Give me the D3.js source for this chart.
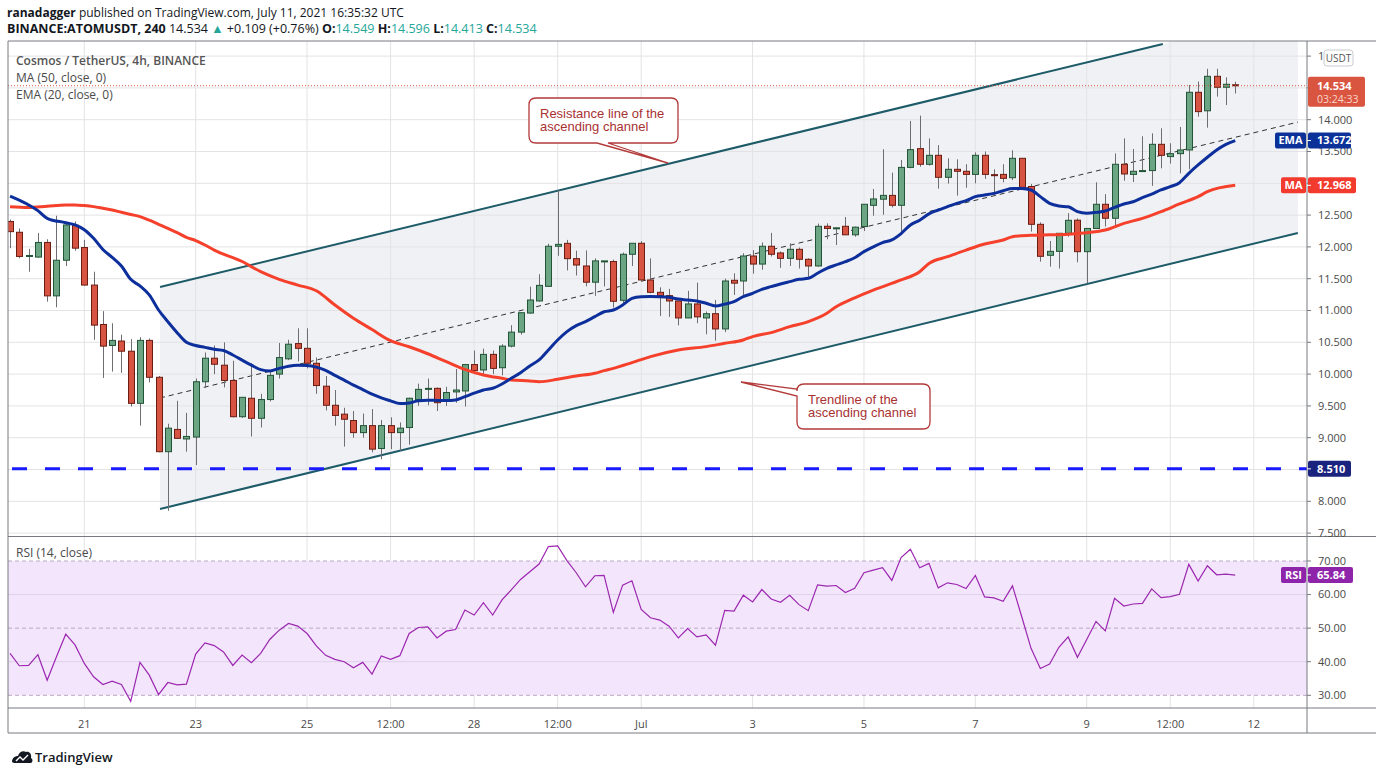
<!DOCTYPE html>
<html><head><meta charset="utf-8">
<script src="https://cdn.jsdelivr.net/npm/d3@7"></script>
<style>body{margin:0;background:#fff;} svg{display:block;font-family:'Open Sans',sans-serif;}</style>
</head><body><svg id="c" width="1376" height="776"></svg>
<script>
// ---------- DATA ----------
const firstIndex = -8; // candle index of first bar (index 0 = Jun 21 00:00, 4h bars)
const opens = [
12.40,12.23,11.855,11.84,12.07,11.23,11.79,12.34,11.99,11.40,
10.78,10.45,10.52,10.36,9.54,10.53,9.95,8.78,9.13,8.98,
9.01,9.88,10.25,10.14,9.90,9.33,9.62,9.305,9.60,10.00,
10.24,10.48,10.405,10.17,9.81,9.51,9.37,9.27,9.08,9.19,
8.83,9.19,9.08,9.16,9.60,9.76,9.776,9.58,9.72,9.735,
10.15,10.065,10.31,10.10,10.44,10.66,10.96,11.15,11.38,12.01,
12.056,11.815,11.70,11.445,11.77,11.77,11.16,11.884,12.057,11.48,
11.286,11.234,11.15,10.883,11.103,10.883,10.95,10.71,11.475,11.464,
11.857,11.73,12.01,11.905,11.82,11.962,11.805,11.70,12.324,12.29,
12.324,12.19,12.32,12.654,12.75,12.81,12.654,13.25,13.545,13.299,
13.44,13.094,13.22,13.189,13.14,13.44,13.136,13.14,13.088,13.393,
12.95,12.355,11.868,11.93,12.214,12.42,11.925,12.29,12.67,12.45,
13.299,13.14,13.19,13.20,13.613,13.42,13.466,13.524,14.431,14.14,
14.682,14.51,14.549];
const highs = [
12.43,12.29,11.97,12.22,12.12,12.49,12.36,12.40,12.11,11.61,
10.99,10.80,10.62,10.55,10.58,10.56,9.97,9.22,9.58,9.39,
9.93,10.34,10.45,10.50,10.21,9.64,10.17,9.69,10.04,10.49,
10.54,10.72,10.72,10.26,9.97,9.75,9.47,9.42,9.38,9.45,
9.28,9.32,9.24,9.63,9.85,9.93,9.79,9.80,10.08,10.16,
10.37,10.40,10.37,10.47,10.77,10.97,11.375,11.57,12.05,12.895,
12.11,11.94,11.945,11.82,11.78,11.80,11.91,12.06,12.09,11.82,
11.365,11.34,11.15,11.31,11.438,10.985,11.166,11.50,11.585,11.90,
11.95,12.07,12.22,11.927,12.057,11.99,11.82,12.366,12.37,12.30,
12.47,12.32,12.67,12.91,13.535,13.168,13.367,13.98,14.064,13.707,
13.60,13.393,13.377,13.30,13.487,13.50,13.22,13.30,13.52,13.393,
12.99,12.386,12.093,12.214,12.53,12.447,12.29,13.016,12.83,13.47,
13.707,13.54,13.74,13.786,13.865,13.63,13.886,14.546,14.60,14.80,
14.80,14.667,14.596];
const lows = [
11.98,11.82,11.61,11.83,11.14,11.05,11.70,11.94,11.39,10.54,
9.94,10.04,10.02,9.49,9.19,9.87,8.77,7.85,8.98,8.78,
8.57,9.78,10.00,9.79,9.32,9.31,9.02,9.16,9.57,9.93,
10.22,10.20,10.09,9.69,9.43,9.19,8.86,9.00,9.00,8.77,
8.66,8.82,8.79,8.89,9.50,9.51,9.42,9.50,9.55,9.49,
10.00,9.99,10.00,9.98,10.42,10.62,10.95,11.14,11.37,11.86,
11.63,11.55,11.38,11.23,11.38,11.045,11.07,11.70,11.47,11.27,
10.914,10.90,10.767,10.88,10.80,10.626,10.526,10.66,11.244,11.234,
11.58,11.64,11.85,11.67,11.70,11.66,11.53,11.69,12.12,12.03,
12.187,12.16,12.25,12.49,12.505,12.62,12.24,13.235,13.26,13.278,
12.916,12.995,12.806,12.93,13.00,13.07,12.82,13.015,13.05,12.92,
12.24,11.768,11.69,11.66,12.16,11.758,11.428,12.29,12.32,12.32,
13.04,13.02,13.18,12.96,13.235,13.31,13.157,13.22,14.048,13.874,
14.363,14.23,14.413];
const closes = [
12.24,11.85,11.865,12.07,11.23,11.79,12.345,11.98,11.40,10.77,
10.44,10.53,10.36,9.54,10.53,9.95,8.78,9.15,8.99,9.02,
9.88,10.25,10.155,9.90,9.33,9.635,9.305,9.60,9.98,10.26,
10.47,10.405,10.17,9.82,9.51,9.35,9.29,9.08,9.19,8.82,
9.19,9.08,9.15,9.62,9.76,9.776,9.55,9.71,9.75,10.15,
10.055,10.31,10.09,10.44,10.66,10.965,11.165,11.395,12.01,12.04,
11.815,11.715,11.445,11.78,11.78,11.145,11.884,12.057,11.48,11.286,
11.234,11.15,10.883,11.103,10.90,10.95,10.71,11.464,11.43,11.857,
11.73,12.01,11.884,11.82,11.962,11.805,11.70,12.324,12.29,12.30,
12.19,12.31,12.67,12.754,12.81,12.654,13.25,13.529,13.299,13.44,
13.094,13.22,13.189,13.14,13.44,13.14,13.12,13.078,13.393,12.937,
12.355,11.852,11.93,12.214,12.418,11.925,12.29,12.67,12.45,13.299,
13.147,13.189,13.20,13.613,13.44,13.466,13.524,14.431,14.127,14.682,
14.51,14.557,14.534];
const rsiValues = [
42.5,38.8,38.9,42.1,34.5,41.5,48.2,45.0,39.5,35.5,
33.2,34.2,33.2,28.2,39.8,36.0,30.2,33.8,33.1,33.3,
42.3,45.6,44.8,42.9,38.9,42.0,39.7,42.5,46.7,49.4,
51.4,50.6,48.4,44.7,41.9,40.7,40.0,38.2,39.8,36.3,
41.7,40.7,41.8,48.4,50.2,50.4,47.1,49.1,49.6,55.4,
53.9,57.6,53.9,58.4,61.4,64.5,66.8,69.1,74.3,74.5,
70.1,66.5,62.3,65.6,65.7,54.7,62.8,64.1,55.6,53.1,
52.4,50.6,47.1,49.9,47.4,48.0,44.9,55.3,55.1,59.8,
57.8,61.5,58.7,57.7,59.8,57.0,55.2,62.9,62.5,62.7,
60.6,61.9,66.5,67.3,68.0,64.2,71.0,73.5,68.0,69.3,
62.0,63.5,63.0,61.8,65.7,59.3,59.0,58.0,62.6,53.4,
44.0,38.0,39.3,44.3,47.4,41.3,46.6,52.0,49.2,58.9,
56.6,57.2,57.4,61.7,59.1,59.4,60.1,69.0,64.0,68.6,
65.9,66.1,65.8];
// EMA(20) readings [candle index, value]
const emaPoints = [[-8,12.80],[-5,12.57],[-4,12.45],[-2,12.38],[-1,12.345],[0,12.27],[1,12.135],[2,11.96],[3,11.837],[4,11.70],[5,11.49],[6,11.386],[7,11.245],[8,11.008],[9,10.825],[10,10.652],[11,10.50],[12,10.45],[13,10.42],[14,10.39],[15,10.37],[16,10.30],[17,10.22],[18,10.14],[19,10.07],[20,10.05],[21,10.09],[22,10.125],[23,10.14],[24,10.135],[25,10.11],[26,10.06],[27,9.98],[28,9.905],[29,9.826],[30,9.757],[31,9.684],[32,9.626],[33,9.58],[34,9.537],[35,9.547],[36,9.58],[37,9.589],[38,9.586],[39,9.583],[40,9.593],[41,9.645],[42,9.70],[43,9.75],[44,9.777],[45,9.845],[46,9.934],[47,10.023],[48,10.128],[49,10.222],[50,10.38],[51,10.537],[52,10.668],[53,10.762],[54,10.825],[55,10.904],[56,10.98],[57,11.008],[58,11.087],[59,11.19],[60,11.218],[61,11.222],[62,11.218],[63,11.207],[64,11.18],[65,11.166],[66,11.15],[67,11.113],[68,11.07],[69,11.10],[70,11.14],[71,11.218],[72,11.27],[73,11.333],[74,11.375],[75,11.417],[76,11.454],[77,11.49],[78,11.506],[79,11.585],[80,11.664],[81,11.716],[82,11.768],[83,11.83],[84,11.925],[85,12.0],[86,12.067],[87,12.11],[88,12.21],[89,12.345],[90,12.42],[91,12.52],[92,12.58],[93,12.633],[94,12.685],[95,12.727],[96,12.79],[97,12.816],[98,12.842],[99,12.884],[100,12.92],[101,12.92],[102,12.895],[103,12.79],[104,12.685],[105,12.643],[106,12.63],[107,12.554],[108,12.53],[109,12.543],[110,12.565],[111,12.62],[112,12.675],[113,12.71],[114,12.774],[115,12.83],[116,12.895],[117,12.947],[118,13.01],[119,13.157],[120,13.288],[121,13.409],[122,13.524],[123,13.613],[124,13.672]];
// MA(50) readings [candle index, value]
const maPoints = [[-8,12.633],[-6,12.62],[-4,12.64],[-2,12.66],[-1,12.66],[0,12.65],[1,12.633],[2,12.607],[3,12.58],[4,12.544],[5,12.51],[6,12.476],[7,12.42],[8,12.355],[9,12.29],[10,12.224],[11,12.15],[12,12.1],[13,12.03],[14,11.95],[17,11.77],[19,11.61],[21,11.49],[23,11.40],[25,11.31],[27,11.086],[29,10.877],[31,10.70],[33,10.525],[35,10.43],[37,10.32],[39,10.196],[41,10.075],[43,9.986],[45,9.934],[46,9.908],[48,9.892],[49,9.88],[51,9.918],[53,9.97],[55,10.013],[56,10.055],[57,10.09],[59,10.18],[61,10.275],[64,10.38],[67,10.432],[69,10.484],[71,10.537],[72,10.59],[74,10.652],[76,10.746],[78,10.825],[80,10.956],[81,11.06],[83,11.20],[85,11.322],[88,11.48],[90,11.61],[91,11.74],[93,11.846],[95,11.95],[97,12.045],[99,12.108],[100,12.16],[102,12.182],[104,12.19],[106,12.2],[108,12.224],[110,12.265],[112,12.37],[114,12.449],[116,12.554],[118,12.675],[120,12.79],[121,12.868],[124,12.968]];
// Drawn channel: [candle index, price]
const channelUpper = [[8.16, 11.37], [116.2, 15.19]];
const channelLower = [[8.16, 7.88], [130.75, 12.22]];
const supportLevel = 8.51;
const lastPrice = 14.534, emaLast = 13.672, maLast = 12.968, rsiLast = 65.84;
const priceTicks = [7.5,8,8.5,9,9.5,10,10.5,11,11.5,12,12.5,13,13.5,14,14.5,15];
const priceLabelTicks = [7.5,8,9,9.5,10,10.5,11,11.5,12,12.5,13.5,14,15]; // others hidden under value labels
const rsiTicks = [30,40,50,60,70];
const timeTickIdx = [0,12,24,33,42,51,60,72,84,96,108,117,126];
const timeTickLabels = ["21","23","25","12:00","28","12:00","Jul","3","5","7","9","12:00","12"];

// ---------- LAYOUT ----------
const L=8, R=1307, PT=41, PB=536, RT=537, RB=708, TB=733;
const svg = d3.select("#c");
const x = d3.scaleLinear().domain([0,126]).range([84.3,1253.8]);
const y = d3.scaleLinear().domain([7.5,15]).range([533.1,56.1]);
const ry = d3.scaleLinear().domain([30,70]).range([695.3,561]);
const idx = opens.map((d,i)=>i+firstIndex);
const candles = idx.map((k,i)=>({k,o:opens[i],h:highs[i],l:lows[i],c:closes[i]}));

svg.append("rect").attr("width",1376).attr("height",776).attr("fill","#fff");
const defs = svg.append("defs");
defs.append("clipPath").attr("id","pp").append("rect").attr("x",L).attr("y",PT).attr("width",R-L).attr("height",PB-PT);
defs.append("clipPath").attr("id","rp").append("rect").attr("x",L).attr("y",RT).attr("width",R-L).attr("height",RB-RT);
defs.append("clipPath").attr("id","usdt").append("rect").attr("x",R).attr("y",40).attr("width",1323-R).attr("height",30);

const gP = svg.append("g").attr("clip-path","url(#pp)");
const gR = svg.append("g").attr("clip-path","url(#rp)");

// channel shading
const lineAt = (ln,k)=> ln[0][1] + (ln[1][1]-ln[0][1])*(k-ln[0][0])/(ln[1][0]-ln[0][0]);
const kEnd = channelLower[1][0], kStart = channelLower[0][0];
gP.append("path").attr("d", d3.line()([
  [x(kStart), y(lineAt(channelUpper,kStart))],[x(kEnd), y(lineAt(channelUpper,kEnd))],
  [x(kEnd), y(lineAt(channelLower,kEnd))],[x(kStart), y(lineAt(channelLower,kStart))]])+"Z")
  .attr("fill","#f0f1f4");

// grid
const gridC = "#e3e3e6";
timeTickIdx.forEach(k=>{
  gP.append("line").attr("x1",x(k)).attr("x2",x(k)).attr("y1",PT).attr("y2",PB).attr("stroke",gridC);
  gR.append("line").attr("x1",x(k)).attr("x2",x(k)).attr("y1",RT).attr("y2",RB).attr("stroke",gridC);
});
priceTicks.forEach(p=>{
  gP.append("line").attr("x1",L).attr("x2",R).attr("y1",y(p)).attr("y2",y(p)).attr("stroke",gridC);
});

// RSI band
gR.append("rect").attr("x",L).attr("width",R-L).attr("y",ry(70)).attr("height",ry(30)-ry(70)).attr("fill","#f3e6fc");
[40,60].forEach(v=>gR.append("line").attr("x1",L).attr("x2",R).attr("y1",ry(v)).attr("y2",ry(v)).attr("stroke","#ddd0ea"));
[30,50,70].forEach(v=>gR.append("line").attr("x1",L).attr("x2",R).attr("y1",ry(v)).attr("y2",ry(v))
  .attr("stroke","#b9a8c4").attr("stroke-dasharray","4,3"));

// channel lines
const chanC = "#1d5b68";
gP.append("line").attr("x1",x(channelUpper[0][0])).attr("y1",y(channelUpper[0][1]))
  .attr("x2",x(channelUpper[1][0])).attr("y2",y(channelUpper[1][1])).attr("stroke",chanC).attr("stroke-width",2);
gP.append("line").attr("x1",x(channelLower[0][0])).attr("y1",y(channelLower[0][1]))
  .attr("x2",x(channelLower[1][0])).attr("y2",y(channelLower[1][1])).attr("stroke",chanC).attr("stroke-width",2);
gP.append("line").attr("x1",x(kStart)).attr("y1",y((lineAt(channelUpper,kStart)+lineAt(channelLower,kStart))/2))
  .attr("x2",x(kEnd)).attr("y2",y((lineAt(channelUpper,kEnd)+lineAt(channelLower,kEnd))/2))
  .attr("stroke","#333").attr("stroke-width",1).attr("stroke-dasharray","5,4");

// support line
gP.append("line").attr("x1",L).attr("x2",R).attr("y1",y(supportLevel)).attr("y2",y(supportLevel))
  .attr("stroke","#1a1aff").attr("stroke-width",3).attr("stroke-dasharray","15,18").attr("stroke-dashoffset",-4);

// candles
const cg = gP.append("g");
candles.forEach(d=>{
  const up = d.c >= d.o;
  const cx = Math.round(x(d.k))+0.5;
  cg.append("line").attr("x1",cx).attr("x2",cx).attr("y1",y(d.h)).attr("y2",y(d.l)).attr("stroke","#6e6e72").attr("stroke-width",1);
  const top = y(Math.max(d.o,d.c)), bot = y(Math.min(d.o,d.c));
  const h = Math.max(bot-top, 1);
  cg.append("rect").attr("x",cx-3).attr("width",6).attr("y",top).attr("height",h)
    .attr("fill", up?"#6ba583":"#d75442").attr("stroke", up?"#225437":"#6b1d12").attr("stroke-width",1);
});

// MA & EMA
const ln = d3.line().x(d=>x(d[0])).y(d=>y(d[1])).curve(d3.curveMonotoneX);
gP.append("path").attr("d",ln(maPoints)).attr("fill","none").attr("stroke","#f5402c").attr("stroke-width",3).attr("stroke-linejoin","round");
gP.append("path").attr("d",ln(emaPoints)).attr("fill","none").attr("stroke","#0d2f9c").attr("stroke-width",3).attr("stroke-linejoin","round");

// last price dotted
gP.append("line").attr("x1",L).attr("x2",R).attr("y1",y(lastPrice)).attr("y2",y(lastPrice))
  .attr("stroke","#d9553f").attr("stroke-dasharray","1,2");

// RSI line
gR.append("path").attr("d", d3.line().x((d,i)=>x(i+firstIndex)).y(d=>ry(d))(rsiValues))
  .attr("fill","none").attr("stroke","#9c27b0").attr("stroke-width",1.2);

// frame
const frameC = "#777a80";
svg.append("line").attr("x1",L).attr("x2",1376).attr("y1",PT).attr("y2",PT).attr("stroke",frameC);
svg.append("line").attr("x1",L).attr("x2",L).attr("y1",PT).attr("y2",TB).attr("stroke",frameC);
svg.append("line").attr("x1",R).attr("x2",R).attr("y1",PT).attr("y2",TB).attr("stroke",frameC);
svg.append("line").attr("x1",L).attr("x2",1376).attr("y1",PB+0.5).attr("y2",PB+0.5).attr("stroke",frameC);
svg.append("line").attr("x1",L).attr("x2",1376).attr("y1",RB).attr("y2",RB).attr("stroke",frameC);
svg.append("line").attr("x1",L).attr("x2",1376).attr("y1",TB).attr("y2",TB).attr("stroke",frameC);

// price axis labels
const axC = "#4a4a4a";
const f3 = d3.format(".3f");
priceTicks.forEach(p=>{
  svg.append("line").attr("x1",R).attr("x2",R+4).attr("y1",y(p)).attr("y2",y(p)).attr("stroke",frameC);
});
priceLabelTicks.forEach(p=>{
  const t = svg.append("text").attr("x",R+11).attr("y",y(p)).attr("dy","0.35em").attr("font-size",11).attr("fill",axC).text(f3(p));
  if(p===15) t.attr("clip-path","url(#usdt)");
});
rsiTicks.forEach(v=>{
  svg.append("line").attr("x1",R).attr("x2",R+4).attr("y1",ry(v)).attr("y2",ry(v)).attr("stroke",frameC);
  svg.append("text").attr("x",R+11).attr("y",ry(v)).attr("dy","0.35em").attr("font-size",11).attr("fill",axC).text(d3.format(".2f")(v));
});
timeTickIdx.forEach((k,i)=>{
  svg.append("text").attr("x",x(k)).attr("y",724).attr("text-anchor","middle").attr("dy","0.35em")
    .attr("font-size",11).attr("fill",axC).text(timeTickLabels[i]);
});

// USDT box
svg.append("rect").attr("x",1324).attr("y",50).attr("width",29).attr("height",16).attr("rx",3)
  .attr("fill","#fff").attr("stroke","#c9cbd0");
svg.append("text").attr("x",1338.5).attr("y",58).attr("dy","0.35em").attr("text-anchor","middle")
  .attr("font-size",10).attr("fill","#555").text("USDT");

// value labels
function valueLabel(yy, txt, color, tag, tagW, valW){
  const g = svg.append("g");
  if(tag){
    g.append("rect").attr("x",R-1-tagW).attr("y",yy-8).attr("width",tagW).attr("height",16).attr("rx",2).attr("fill",color);
    g.append("text").attr("x",R-1-tagW/2).attr("y",yy).attr("dy","0.35em").attr("text-anchor","middle")
      .attr("font-size",11).attr("font-weight",700).attr("fill","#fff").text(tag);
  }
  g.append("rect").attr("x",R+1).attr("y",yy-8).attr("width",valW).attr("height",16).attr("rx",2).attr("fill",color);
  g.append("line").attr("x1",R).attr("x2",R+4).attr("y1",yy).attr("y2",yy).attr("stroke","#fff");
  g.append("text").attr("x",R+10).attr("y",yy).attr("dy","0.35em").attr("font-size",11).attr("font-weight",700).attr("fill","#fff").text(txt);
}
valueLabel(y(emaLast), f3(emaLast), "#0c3299", "EMA", 31, 43);
valueLabel(y(maLast), f3(maLast), "#f23a2e", "MA", 25, 48);
valueLabel(y(supportLevel), f3(supportLevel), "#1a237e", null, 0, 43);
valueLabel(ry(rsiLast), d3.format(".2f")(rsiLast), "#8e24aa", "RSI", 25, 45);
// last price label
{
  const yy = y(lastPrice);
  svg.append("rect").attr("x",R+1).attr("y",yy-9).attr("width",57).attr("height",30).attr("rx",2).attr("fill","#d9553f");
  svg.append("text").attr("x",R+10).attr("y",yy+4).attr("font-size",11).attr("font-weight",700).attr("fill","#fff").text(f3(lastPrice));
  svg.append("text").attr("x",R+10).attr("y",yy+17).attr("font-size",10.5).attr("fill","#fbd5cc").text("03:24:33");
}

// header
const t1 = svg.append("text").attr("x",7).attr("y",17).attr("font-size",12).attr("fill","#131722");
t1.append("tspan").attr("font-weight",700).text("ranadagger");
t1.append("tspan").text(" published on TradingView.com, July 11, 2021 16:35:32 UTC");
const teal = "#26a69a";
const t2 = svg.append("text").attr("x",7).attr("y",33).attr("font-size",12.5).attr("fill","#131722");
t2.append("tspan").attr("font-weight",700).text("BINANCE:ATOMUSDT, 240");
t2.append("tspan").text("  14.534 ");
t2.append("tspan").attr("fill",teal).text("▲");
t2.append("tspan").text(" +0.109 (+0.76%) ");
[["O:","14.549"],["H:","14.596"],["L:","14.413"],["C:","14.534"]].forEach((p,i)=>{
  t2.append("tspan").attr("font-weight",700).text((i?" ":"")+p[0]);
  t2.append("tspan").attr("fill",teal).text(p[1]);
});

// legends
svg.append("text").attr("x",16).attr("y",65).attr("font-size",12).attr("font-weight",600).attr("fill","#555").text("Cosmos / TetherUS, 4h, BINANCE");
svg.append("text").attr("x",16).attr("y",82).attr("font-size",12).attr("fill","#4a4a4a").text("MA (50, close, 0)");
svg.append("text").attr("x",16).attr("y",99).attr("font-size",12).attr("fill","#4a4a4a").text("EMA (20, close, 0)");
svg.append("text").attr("x",16).attr("y",557).attr("font-size",12).attr("fill","#4a4a4a").text("RSI (14, close)");

// annotations
const annC = "#b23a3a";
function callout(x0,y0,x1,y1,r,tail,lines,tx){
  let d;
  if(tail.side==="bottom"){
    d = `M${x0+r},${y0}H${x1-r}Q${x1},${y0} ${x1},${y0+r}V${y1-r}Q${x1},${y1} ${x1-r},${y1}H${tail.b}L${tail.tx},${tail.ty}L${tail.a},${y1}H${x0+r}Q${x0},${y1} ${x0},${y1-r}V${y0+r}Q${x0},${y0} ${x0+r},${y0}Z`;
  } else {
    d = `M${x0+r},${y0}H${x1-r}Q${x1},${y0} ${x1},${y0+r}V${y1-r}Q${x1},${y1} ${x1-r},${y1}H${x0+r}Q${x0},${y1} ${x0},${y1-r}V${tail.b}L${tail.tx},${tail.ty}L${x0},${tail.a}V${y0+r}Q${x0},${y0} ${x0+r},${y0}Z`;
  }
  svg.append("path").attr("d",d).attr("fill","#fff").attr("stroke",annC).attr("stroke-width",1.3);
  lines.forEach((s,i)=>svg.append("text").attr("x",tx).attr("y",y0+20+i*13).attr("font-family","'Liberation Sans',Arial,sans-serif")
    .attr("font-size",13).attr("fill","#a83232").text(s));
}
callout(529,98,678,143,7,{side:"bottom",a:597,b:608,tx:668,ty:163},["Resistance line of the","ascending channel"],540);
callout(797,384,930,429,7,{side:"left",a:389,b:396,tx:741,ty:382},["Trendline of the","ascending channel"],808);

// logo
const lg = svg.append("g").attr("transform","translate(12,750)");
lg.append("path").attr("d","M0,12 C0,8 3,6 6,6 C7,2 11,0 14,2 C17,1 20,4 19,8 C21,9 21,12 19,13 L2,13 Z").attr("fill","#131722");
lg.append("path").attr("d","M4,11 L8,7 L11,10 L16,5").attr("fill","none").attr("stroke","#fff").attr("stroke-width",1.4);
svg.append("text").attr("x",35).attr("y",762).attr("font-size",13).attr("font-weight",600).attr("fill","#131722").text("TradingView");
</script></body></html>
